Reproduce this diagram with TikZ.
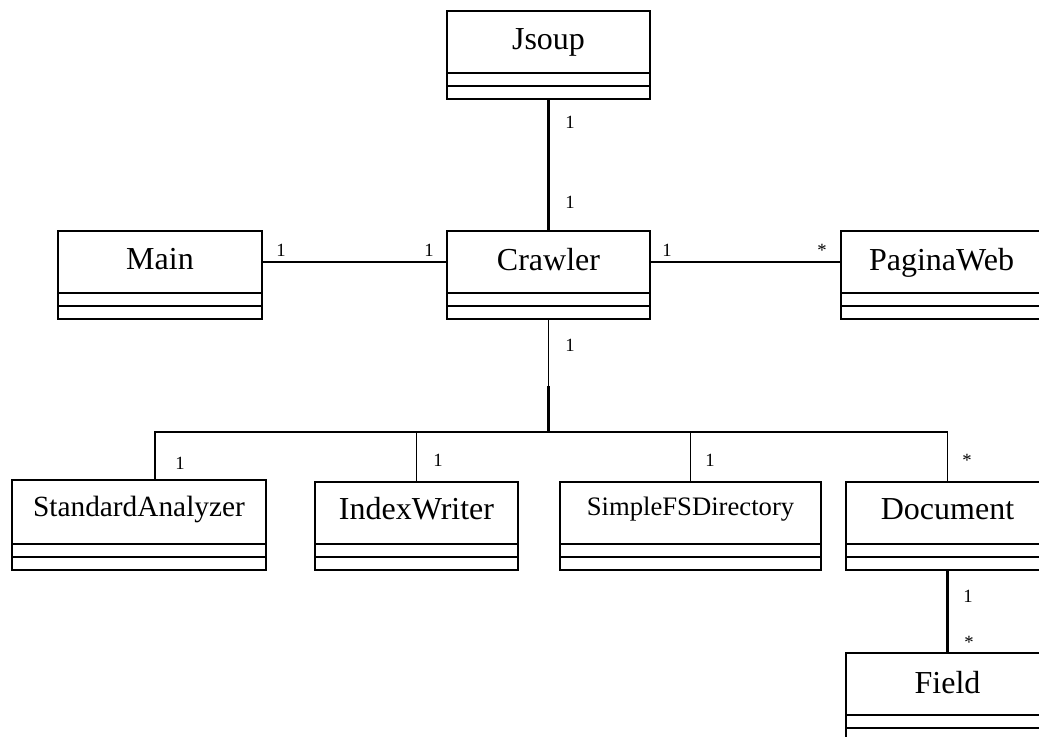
\documentclass[tikz,border=0pt]{standalone}
\usepackage{fontspec}
\setmainfont{Liberation Serif}
\usetikzlibrary{calc,fit}

% One class: framed box with a name compartment and two empty compartments.
% #1 node name, #2 left, #3 top, #4 right, #5 bottom of name compartment,
% #6 text baseline, #7 font size (pt), #8 class name
\newcommand\umlclass[8]{%
  \node[classbox, fit={(#2,#3) (#4,{#5+26})}] (#1) {};
  \draw[classline] ($(#1.north west)+(0,{#5-#3})$) -- ($(#1.north east)+(0,{#5-#3})$);
  \draw[classline] ($(#1.north west)+(0,{#5-#3+13})$) -- ($(#1.north east)+(0,{#5-#3+13})$);
  \node[anchor=base, inner sep=0pt, font=\fontsize{#7}{#7}\selectfont] (#1-title) at ({(#2+#4)/2},#6) {#8};
}

\tikzset{
  classbox/.style={draw, line width=1.1pt, inner sep=0pt, outer sep=0pt},
  classline/.style={line width=1.1pt},
  link/.style={line width=1.2pt},
  heavylink/.style={line width=2pt},
  mult/.style={anchor=base west, inner sep=0pt, font=\fontsize{14}{14}\selectfont},
}

\begin{document}
\begin{tikzpicture}[x=0.75pt, y=-0.75pt]
  \useasboundingbox (0,0) rectangle (1039,737);
  \clip (0,0) rectangle (1039,737);

  % classes
  \umlclass{jsoup}{447}{11}{650}{73}{50}{24}{Jsoup}
  \umlclass{main}{58}{231}{262}{293}{270}{24}{Main}
  \umlclass{crawler}{447}{231}{650}{293}{271}{24}{Crawler}
  \umlclass{pagina}{841}{231}{1042}{293}{271}{24}{PaginaWeb}
  \umlclass{sa}{12}{480}{266}{544}{517}{22}{StandardAnalyzer}
  \umlclass{iw}{315}{482}{518}{544}{520}{24}{IndexWriter}
  \umlclass{sf}{560}{482}{821}{544}{516}{20}{SimpleFSDirectory}
  \umlclass{doc}{846}{482}{1049}{544}{520}{24}{Document}
  \umlclass{field}{846}{653}{1049}{715}{693}{24}{Field}

  % associations
  \draw[heavylink] (jsoup.south) -- (crawler.north);
  \draw[link] ($(main.north east)+(0,31)$) -- ($(crawler.north west)+(0,31)$);
  \draw[link] ($(crawler.north east)+(0,31)$) -- ($(pagina.north west)+(0,31)$);

  \coordinate (busmid) at (548.5,386);
  \coordinate (bus) at (548.5,432);
  \draw[link] (crawler.south) -- (busmid);
  \draw[heavylink] (busmid) -- (bus);
  \draw[link] (bus) -| ($(sa.north west)+(143,0)$);
  \draw[link] (bus) -| (iw.north);
  \draw[link] (bus) -| (sf.north);
  \draw[link] (bus) -| (doc.north);
  \draw[heavylink] (iw.north |- bus) -- (sf.north |- bus);
  \draw[heavylink] (doc.south) -- (field.north);

  % multiplicities
  \node[mult] (m-jsoup)   at (565,129) {1};
  \node[mult] (m-crtop)   at (565,209) {1};
  \node[mult] (m-main)    at (276,257) {1};
  \node[mult] (m-crleft)  at (424,257) {1};
  \node[mult] (m-crright) at (662,257) {1};
  \node[mult] (m-pagina)  at (817,257) {*};
  \node[mult] (m-crbot)   at (565,352) {1};
  \node[mult] (m-sa)      at (175,470) {1};
  \node[mult] (m-iw)      at (433,467) {1};
  \node[mult] (m-sf)      at (705,467) {1};
  \node[mult] (m-doc)     at (962,467) {*};
  \node[mult] (m-doc2)    at (963,602) {1};
  \node[mult] (m-field)   at (964,648) {*};
\end{tikzpicture}
\end{document}
